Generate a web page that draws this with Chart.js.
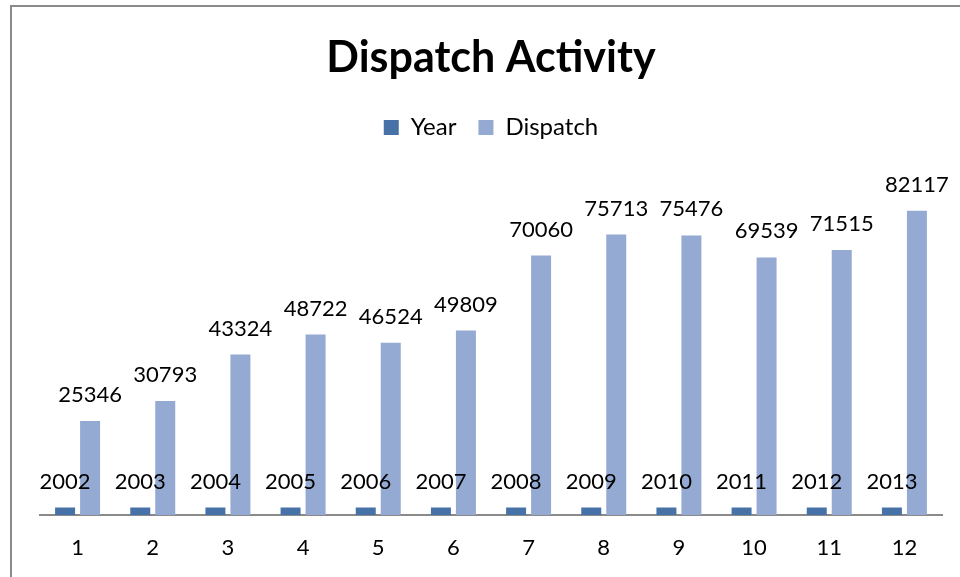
<!DOCTYPE html>
<html>
<head>
<meta charset="utf-8">
<script src="https://cdn.jsdelivr.net/npm/chart.js@4.4.1/dist/chart.umd.min.js"></script>
<style>
  html, body { margin: 0; padding: 0; background: #fff; overflow: hidden; }
  #wrap { position: relative; width: 960px; height: 577px; }
  #frame { position: absolute; left: 10px; top: 5px; width: 980px; height: 600px;
           border-left: 2px solid #8a8a8a; border-top: 2px solid #8a8a8a; }
  #chart { position: absolute; left: 0; top: 0; }
</style>
</head>
<body>
<div id="wrap">
  <div id="frame"></div>
  <canvas id="chart" width="960" height="577"></canvas>
</div>
<script>
const categories = ['1', '2', '3', '4', '5', '6', '7', '8', '9', '10', '11', '12'];
const years = [2002, 2003, 2004, 2005, 2006, 2007, 2008, 2009, 2010, 2011, 2012, 2013];
const dispatch = [25346, 30793, 43324, 48722, 46524, 49809, 70060, 75713, 75476, 69539, 71515, 82117];

// etiquetas encima de cada barra
const valueLabels = {
    id: 'valueLabels',
    afterDatasetsDraw(chart) {
        const ctx = chart.ctx;
        ctx.save();
        ctx.font = '22px Lato';
        ctx.fillStyle = '#000';
        ctx.textAlign = 'center';
        ctx.textBaseline = 'middle';
        chart.data.datasets.forEach((ds, i) => {
            chart.getDatasetMeta(i).data.forEach((bar, j) => {
                ctx.fillText(String(ds.data[j]), bar.x, bar.y - 26);
            });
        });
        ctx.restore();
    }
};

// leyenda mas alta para dejar espacio sobre las barras
const legendSpace = {
    id: 'legendSpace',
    beforeInit(chart) {
        const fit = chart.legend.fit;
        chart.legend.fit = function () {
            fit.bind(chart.legend)();
            this.height = 88;
        };
    }
};

Chart.defaults.font.family = 'Lato';
Chart.defaults.color = '#000';

new Chart(document.getElementById('chart').getContext('2d'), {
    type: 'bar',
    data: {
        labels: categories,
        datasets: [
            { label: 'Year', data: years, backgroundColor: '#4672A8', borderWidth: 0,
              categoryPercentage: 0.665, barPercentage: 0.8 },
            { label: 'Dispatch', data: dispatch, backgroundColor: '#94AAD2', borderWidth: 0,
              categoryPercentage: 0.665, barPercentage: 0.8 }
        ]
    },
    options: {
        responsive: false,
        animation: false,
        layout: { padding: { left: 40, right: 18, top: 0, bottom: 0 } },
        plugins: {
            title: {
                display: true,
                text: 'Dispatch Activity',
                font: { size: 43, weight: 'bold' },
                color: '#000',
                padding: { top: 32, bottom: 10 }
            },
            legend: {
                position: 'top',
                labels: {
                    boxWidth: 15,
                    boxHeight: 15,
                    padding: 22,
                    font: { size: 24 },
                    color: '#000'
                }
            },
            tooltip: { enabled: false }
        },
        scales: {
            x: {
                grid: { display: false, drawTicks: false },
                border: { display: true, color: '#8a8a8a', width: 2 },
                ticks: { font: { size: 22 }, color: '#000', padding: 20 },
                afterFit(scale) { scale.height = 62; }
            },
            y: {
                display: false,
                min: 0,
                max: 90000
            }
        }
    },
    plugins: [valueLabels, legendSpace]
});
</script>
</body>
</html>
